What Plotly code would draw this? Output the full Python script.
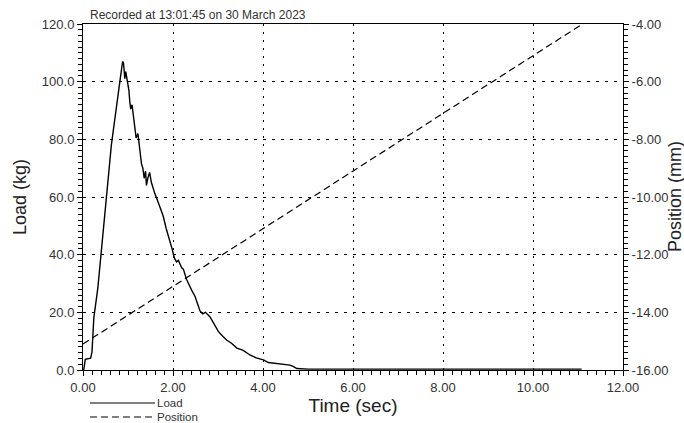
import plotly.graph_objects as go

# ---------------- data ----------------
time_load = [0.00, 0.02, 0.05, 0.10, 0.17, 0.20, 0.24, 0.33, 0.48, 0.63, 0.81, 0.88,
             0.90, 0.93, 0.95, 0.98, 1.02, 1.04, 1.06, 1.09, 1.12, 1.15, 1.18, 1.22,
             1.26, 1.30, 1.33, 1.36, 1.39, 1.41, 1.44, 1.48, 1.52, 1.56, 1.60, 1.64,
             1.70, 1.78, 1.85, 1.93, 1.98, 2.02, 2.04, 2.08, 2.12, 2.19, 2.23, 2.30,
             2.34, 2.42, 2.49, 2.55, 2.60, 2.66, 2.72, 2.82, 2.92, 3.01, 3.10, 3.19,
             3.30, 3.42, 3.56, 3.71, 3.85, 4.01, 4.12, 4.23, 4.40, 4.60, 4.68, 4.75,
             5.00, 6.00, 7.00, 8.00, 9.00, 10.00, 11.08]
load_kg = [0.0, 0.3, 3.7, 3.9, 4.1, 6.3, 18.0, 28.5, 53.0, 78.0, 99.0, 107.0,
           106.5, 101.0, 103.5, 100.5, 97.0, 93.0, 90.5, 92.0, 87.5, 85.5, 80.5, 82.0,
           76.0, 71.5, 70.0, 66.5, 69.0, 64.0, 66.5, 68.5, 65.0, 62.5, 61.0, 59.5,
           57.0, 53.5, 49.0, 45.0, 42.0, 39.5, 38.5, 37.5, 38.0, 35.5, 35.0, 31.5,
           30.0, 27.5, 25.5, 22.5, 20.5, 19.5, 20.0, 18.5, 15.5, 13.3, 11.8, 10.4,
           9.3, 7.6, 6.8, 5.2, 4.2, 3.5, 2.6, 2.4, 2.1, 1.7, 1.2, 0.5,
           0.3, 0.3, 0.3, 0.3, 0.3, 0.3, 0.3]

time_pos = [0.0, 2.0, 4.0, 6.0, 8.0, 10.0, 11.1]
position_mm = [-15.1, -13.1, -11.1, -9.1, -7.1, -5.1, -4.0]

y2_ticks = [-16, -14, -12, -10, -8, -6, -4]
y2_ticktext = ["-16.00", "-14.00", "-12.00", "-10.00", "-8.00", "-6.00", "-4.00"]

series_names = ["Load", "Position"]
title_text = "Recorded at 13:01:45 on 30 March 2023"

# ---------------- figure ----------------
FONT = "Arial, Liberation Sans, sans-serif"
fig = go.Figure()
fig.add_trace(go.Scatter(x=time_load, y=load_kg, mode="lines", name=series_names[0],
                         line=dict(color="black", width=1.4)))
fig.add_trace(go.Scatter(x=time_pos, y=position_mm, mode="lines", name=series_names[1],
                         yaxis="y2", line=dict(color="black", width=1.2, dash="7px,4px")))

axis_common = dict(showline=True, linecolor="black", linewidth=1,
                   ticks="outside", ticklen=5, tickcolor="#000000", tickwidth=1.2,
                   tickfont=dict(family=FONT, size=13, color="#333"),
                   zeroline=False)

def minor(step):
    return dict(dtick=step, ticks="outside", ticklen=4, tickcolor="#000000",
                tickwidth=1.2, showgrid=False)

# legend drawn as paper-referenced line samples + labels below the x axis
legend_shapes = []
legend_annots = []
legend_dashes = ["solid", "7px,4px"]
legend_y = [-0.0954, -0.1358]
for name, dash, ly in zip(series_names, legend_dashes, legend_y):
    legend_shapes.append(dict(type="line", xref="paper", yref="paper",
                              x0=0.013, x1=0.1333, y0=ly, y1=ly,
                              line=dict(color="black", width=1, dash=dash)))
    legend_annots.append(dict(text=name, xref="paper", yref="paper", x=0.1333, y=ly,
                              xanchor="left", yanchor="middle", showarrow=False,
                              font=dict(family=FONT, size=11.5, color="#333")))

right_title = dict(text="Position (mm)", xref="paper", yref="paper", x=1.0963, y=0.5,
                   xanchor="center", yanchor="middle", textangle=-90, showarrow=False,
                   font=dict(family=FONT, size=18, color="#222"))

fig.update_layout(
    width=684, height=423,
    margin=dict(l=83, r=61, t=24, b=53, autoexpand=False),
    paper_bgcolor="white", plot_bgcolor="white",
    font=dict(family=FONT, color="#333"),
    xaxis=dict(range=[0, 12], dtick=2, tick0=0, tickformat=".2f",
               showgrid=True, gridcolor="black", gridwidth=1, griddash="2px,6px",
               mirror=True, minor=minor(0.2),
               title=dict(text="Time (sec)", font=dict(family=FONT, size=19, color="#222"), standoff=1),
               **axis_common),
    yaxis=dict(range=[0, 120], dtick=20, tick0=0, tickformat=".1f",
               showgrid=True, gridcolor="black", gridwidth=1, griddash="3px,6px",
               mirror=True, minor=minor(2),
               title=dict(text="Load (kg)", font=dict(family=FONT, size=18, color="#222"), standoff=10),
               **axis_common),
    yaxis2=dict(range=[-16, -4], tickmode="array", tickvals=y2_ticks, ticktext=y2_ticktext,
                overlaying="y", side="right", showgrid=False, minor=minor(0.2),
                **axis_common),
    showlegend=False,
    shapes=legend_shapes,
    annotations=[dict(text=title_text, xref="paper", yref="paper", x=0.01, y=1.0,
                      xanchor="left", yanchor="bottom", showarrow=False,
                      font=dict(family=FONT, size=12, color="#333")),
                 right_title] + legend_annots,
)

fig.write_html("out.html")
